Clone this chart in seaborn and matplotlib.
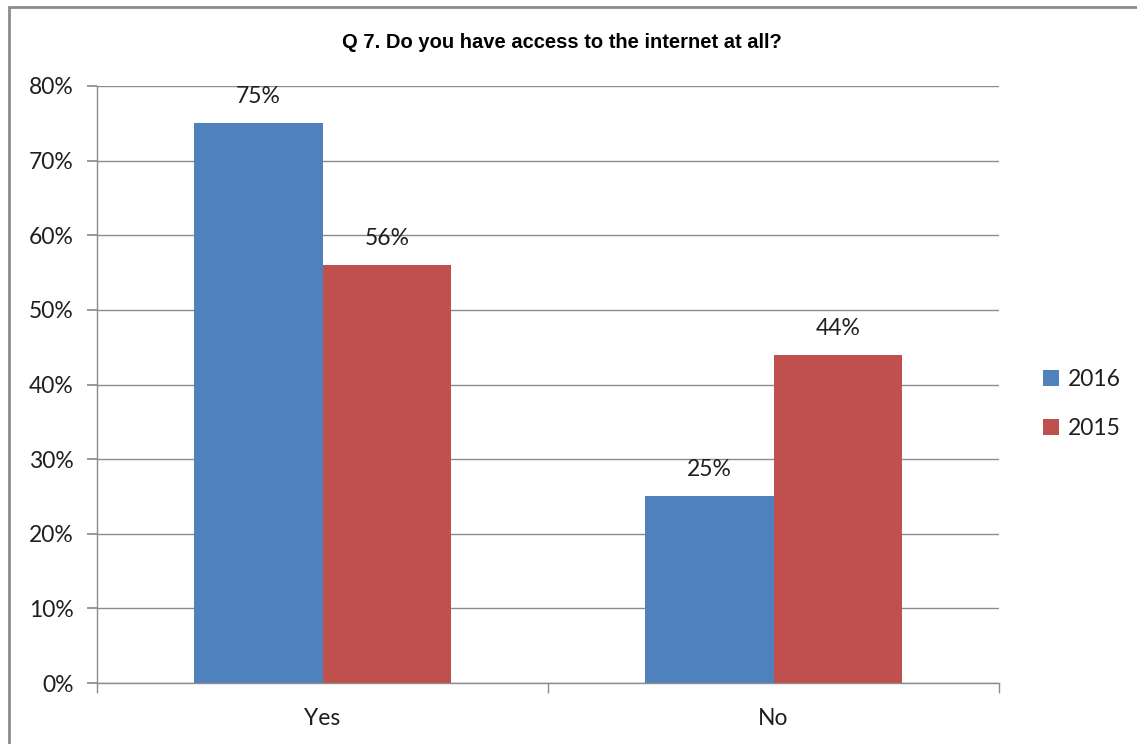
import matplotlib
matplotlib.use("Agg")
import matplotlib.pyplot as plt
import seaborn as sns
import pandas as pd
from matplotlib.patches import Rectangle

# Survey answers and shares per year
answers = ["Yes", "No"]
years = ["2016", "2015"]
share_2016 = [75, 25]
share_2015 = [56, 44]
y_ticks = [0, 10, 20, 30, 40, 50, 60, 70, 80]
title = "Q 7. Do you have access to the internet at all?"

df = pd.DataFrame({
    "answer": answers * 2,
    "year": [years[0]] * len(answers) + [years[1]] * len(answers),
    "share": share_2016 + share_2015,
})

sns.set_theme(style="white")
plt.rcParams["font.family"] = ["Lato", "DejaVu Sans"]

W, H = 1137, 744
fig = plt.figure(figsize=(W / 100, H / 100), dpi=100)
ax = fig.add_axes([97 / W, 1 - 683 / H, (999 - 97) / W, (683 - 86) / H])

palette = {"2016": "#4F81BD", "2015": "#C0504D"}
sns.barplot(data=df, x="answer", y="share", hue="year", hue_order=years,
            order=answers, palette=palette, width=0.572, saturation=1,
            ax=ax, legend=True)

for bar in ax.patches:
    bar.set_edgecolor("none")
for cont in ax.containers:
    ax.bar_label(cont, labels=[f"{v:.0f}%" for v in cont.datavalues],
                 padding=11.5, fontsize=16.5, color="#1f1f1f")

ax.set_xlim(-0.5, 1.5)
ax.set_ylim(0, 80)
ax.set_yticks(y_ticks)
ax.set_yticklabels([f"{t}%" for t in y_ticks])
ax.set_xlabel("")
ax.set_ylabel("")
ax.grid(axis="y", color="#8c8c8c", linewidth=1)
ax.set_axisbelow(True)

for side in ["top", "right"]:
    ax.spines[side].set_visible(False)
for side in ["left", "bottom"]:
    ax.spines[side].set_color("#8c8c8c")
    ax.spines[side].set_linewidth(1)

ax.tick_params(axis="y", which="major", length=7, color="#8c8c8c",
               labelsize=16.5, labelcolor="#1f1f1f", left=True, pad=10)
ax.tick_params(axis="x", which="major", length=0, labelsize=16.5,
               labelcolor="#1f1f1f", pad=18)
ax.set_xticks([0, 1])
# ticks on the category boundaries
ax.set_xticks([-0.5, 0.5, 1.5], minor=True)
ax.tick_params(axis="x", which="minor", length=7, color="#8c8c8c", bottom=True)

fig.text(0.5 * (97 + 999) / W + 0.012, 1 - 43 / H, title, ha="center",
         va="center", fontsize=14.5, fontweight="bold", family="Liberation Sans",
         color="#000000")

leg = ax.legend(loc="center left", bbox_to_anchor=(1.026, 0.467), frameon=False,
                fontsize=16.5, handlelength=0.7, handleheight=0.7,
                handletextpad=0.4, labelspacing=1.2)
for t in leg.get_texts():
    t.set_color("#1f1f1f")

fig.patches.append(Rectangle((9 / W, -0.1), 1.2, 1 - 7 / H + 0.1,
                             transform=fig.transFigure, fill=False,
                             edgecolor="#8c8c8c", linewidth=2))

fig.savefig("out.png", dpi=100)
